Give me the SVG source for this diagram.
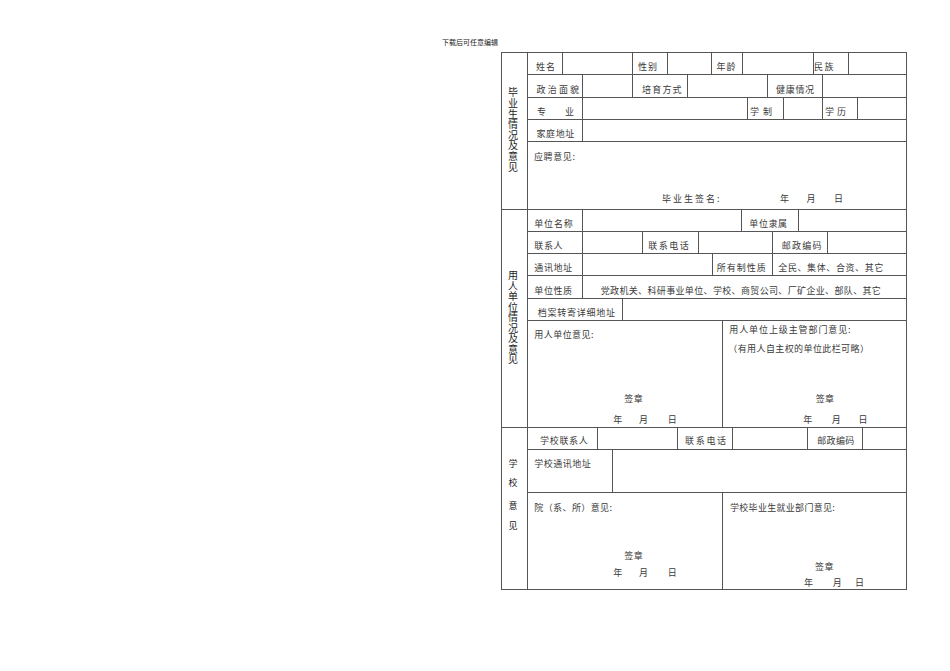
<svg xmlns="http://www.w3.org/2000/svg" width="950" height="671" viewBox="0 0 950 671">
<style>
.g{stroke:#555;stroke-width:1;fill:none}
text{font-family:"Noto Sans CJK SC","Noto Sans",sans-serif;fill:#3a3a3a;font-size:9px;letter-spacing:0.6px}
.vt{font-size:10px;writing-mode:tb;letter-spacing:0.6px;fill:#222}
.v{font-size:9px;text-anchor:middle;letter-spacing:0;fill:#222}
.s{font-size:7px;letter-spacing:0;fill:#222}
</style>
<rect width="950" height="671" fill="#fff"/>
<text class="s" x="442" y="45">下载后可任意编辑</text>
<g id="grid" class="g">
<rect x="501.5" y="52.5" width="405" height="537"/>
<path d="M527.5 52.5V589.5M501.5 209.5H906.5M501.5 427.5H906.5"/>
<path d="M527.5 74.5H906.5M527.5 97.5H906.5M527.5 119.5H906.5M527.5 141.5H906.5"/>
<path d="M562.5 52.5V74.5M632.5 52.5V74.5M667.5 52.5V74.5M711.5 52.5V74.5M742.5 52.5V74.5M813.5 52.5V74.5M848.5 52.5V74.5"/>
<path d="M582.5 74.5V97.5M632.5 74.5V97.5M687.5 74.5V97.5M767.5 74.5V97.5M822.5 74.5V97.5"/>
<path d="M582.5 97.5V141.5M747.5 97.5V119.5M783.5 97.5V119.5M822.5 97.5V119.5M857.5 97.5V119.5"/>
<path d="M527.5 231.5H906.5M527.5 253.5H906.5M527.5 275.5H906.5M527.5 298.5H906.5M527.5 320.5H906.5"/>
<path d="M582.5 209.5V298.5M741.5 209.5V231.5M798.5 209.5V231.5"/>
<path d="M642.5 231.5V253.5M698.5 231.5V253.5M772.5 231.5V275.5M827.5 231.5V253.5M712.5 253.5V275.5"/>
<path d="M622.5 298.5V320.5M722.5 320.5V427.5"/>
<path d="M527.5 449.5H906.5M527.5 492.5H906.5"/>
<path d="M597.5 427.5V449.5M677.5 427.5V449.5M732.5 427.5V449.5M807.5 427.5V449.5M862.5 427.5V449.5"/>
<path d="M612.5 449.5V492.5M722.5 492.5V589.5"/>
</g>
<g id="section-graduate">
<text class="vt" x="513" y="87.7">毕业生情况及意见</text>
<text x="536" y="69.5" style="letter-spacing:1px">姓名</text>
<text x="638" y="69.5" style="letter-spacing:1px">性别</text>
<text x="716.5" y="70" style="letter-spacing:1px">年龄</text>
<text x="814" y="70" style="letter-spacing:1.5px">民族</text>
<text x="536.5" y="92.7" style="letter-spacing:2.2px">政治面貌</text>
<text x="642" y="92.7" style="letter-spacing:1.2px">培育方式</text>
<text x="776" y="92.7" style="letter-spacing:0.7px">健康情况</text>
<text x="537" y="115">专</text><text x="565" y="115">业</text>
<text x="750" y="115" style="letter-spacing:4px">学制</text>
<text x="825" y="115" style="letter-spacing:3px">学历</text>
<text x="536.5" y="137.4">家庭地址</text>
<text x="534" y="160">应聘意见:</text>
<text x="662" y="202" style="letter-spacing:2px">毕业生签名:</text>
<text x="780" y="202">年</text><text x="806.5" y="202">月</text><text x="834" y="202">日</text>
</g>
<g id="section-employer">
<text class="vt" x="513" y="270.7" style="letter-spacing:0.5px">用人单位情况及意见</text>
<text x="534.3" y="226.7" style="letter-spacing:0.8px">单位名称</text>
<text x="749.3" y="226.7">单位隶属</text>
<text x="534.3" y="249">联系人</text>
<text x="648.3" y="249" style="letter-spacing:1.5px">联系电话</text>
<text x="781.7" y="249" style="letter-spacing:1.3px">邮政编码</text>
<text x="534.3" y="271">通讯地址</text>
<text x="716.7" y="271" style="letter-spacing:1px">所有制性质</text>
<text x="778.3" y="271">全民、集体、合资、其它</text>
<text x="534.3" y="294">单位性质</text>
<text x="600.7" y="294" style="letter-spacing:0.35px">党政机关、科研事业单位、学校、商贸公司、厂矿企业、部队、其它</text>
<text x="537.7" y="315.7" style="letter-spacing:0.75px">档案转寄详细地址</text>
<text x="534.3" y="338.4" style="letter-spacing:0.45px">用人单位意见:</text>
<text x="624.3" y="401.7" style="letter-spacing:0.4px">签章</text>
<text x="613.3" y="422.7">年</text><text x="639" y="422.7">月</text><text x="667.7" y="422.7">日</text>
<text x="729.3" y="333.4" style="letter-spacing:0.9px">用人单位上级主管部门意见:</text>
<text x="728.3" y="351.7" style="letter-spacing:0.4px">（有用人自主权的单位此栏可略）</text>
<text x="815.7" y="401.7" style="letter-spacing:0.4px">签章</text>
<text x="803.3" y="423.4">年</text><text x="831.7" y="423.4">月</text><text x="858.5" y="423.4">日</text>
</g>
<g id="section-school">
<text class="v" x="513" y="466.5">学</text><text class="v" x="513" y="486.2">校</text><text class="v" x="513" y="508.5">意</text><text class="v" x="513" y="529">见</text>
<text x="540" y="443.8" style="letter-spacing:0.7px">学校联系人</text>
<text x="685" y="443.8" style="letter-spacing:1.7px">联系电话</text>
<text x="817.3" y="443.8" style="letter-spacing:0.3px">邮政编码</text>
<text x="534.3" y="467.4" style="letter-spacing:0.5px">学校通讯地址</text>
<text x="534.3" y="511" style="letter-spacing:0.4px">院（系、所）意见:</text>
<text x="624.3" y="559.4" style="letter-spacing:0.4px">签章</text>
<text x="613.3" y="575.7">年</text><text x="639" y="575.7">月</text><text x="667.7" y="575.7">日</text>
<text x="730" y="511" style="letter-spacing:0.3px">学校毕业生就业部门意见:</text>
<text x="815" y="570" style="letter-spacing:0.4px">签章</text>
<text x="804" y="586">年</text><text x="832.7" y="586">月</text><text x="855" y="586">日</text>
</g>
</svg>
